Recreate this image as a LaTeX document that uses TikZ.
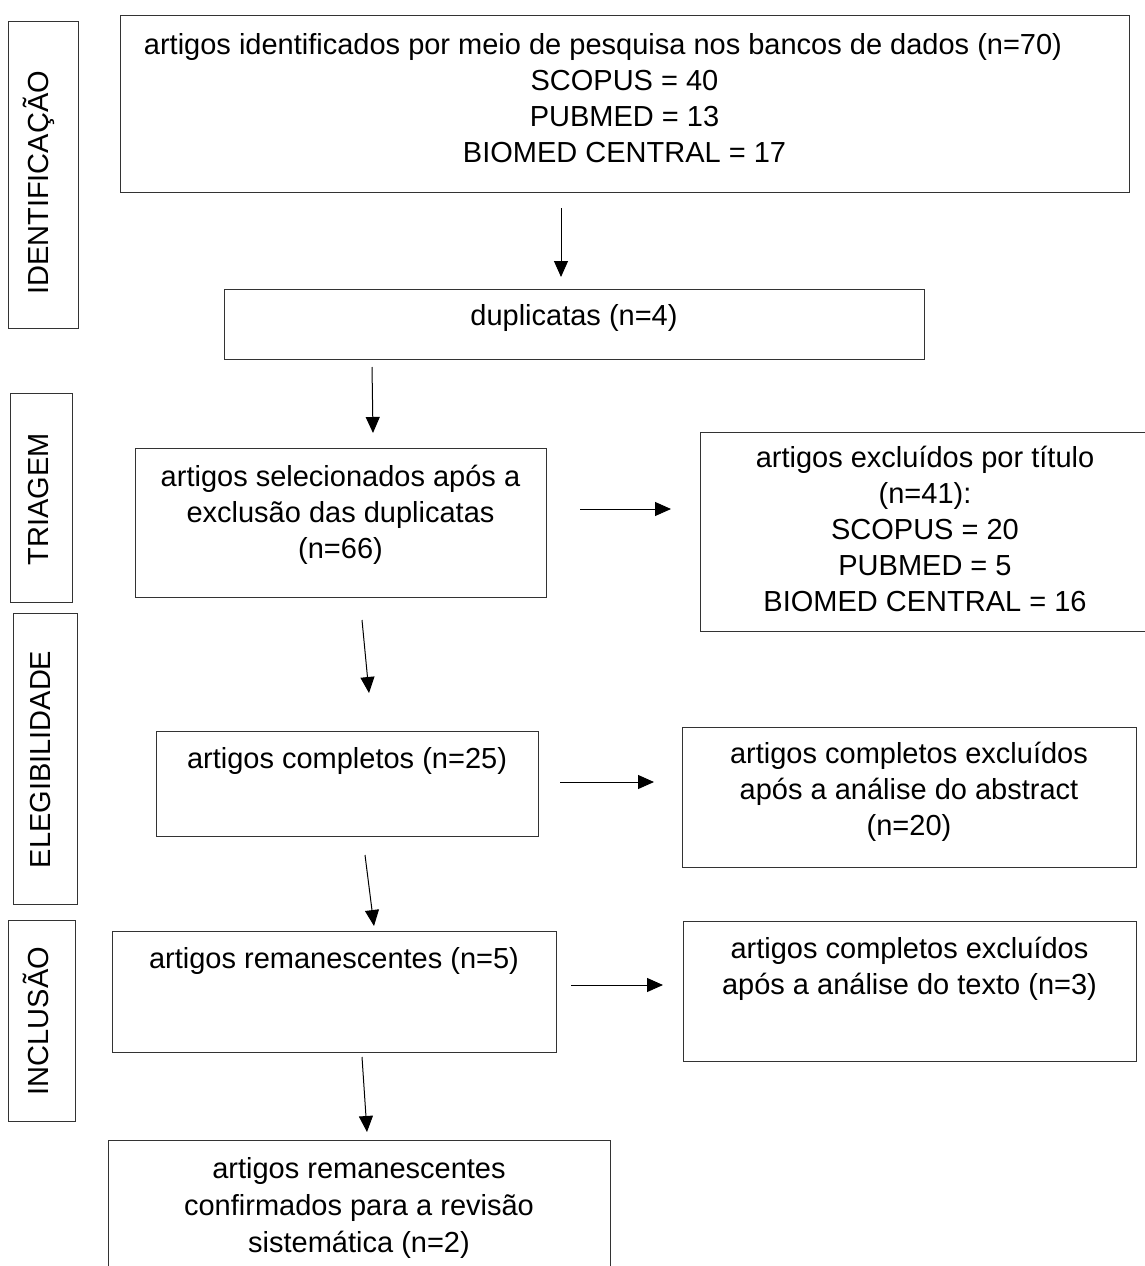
\documentclass[tikz,border=0pt]{standalone}
\usepackage{fontspec}
\setmainfont{Liberation Sans}
\usetikzlibrary{arrows.meta,calc}
\begin{document}
\begin{tikzpicture}[x=1pt,y=-1pt,
  box/.style={draw=black!80, line width=1pt, inner sep=0pt, outer sep=0pt},
  txt/.style={font=\fontsize{29}{36}\selectfont, align=center, inner sep=0pt, anchor=base},
  lab/.style={font=\fontsize{29}{36}\selectfont, inner sep=0pt, anchor=base, rotate=90},
  arr/.style={line width=1pt, draw=black, -{Triangle[length=16pt,width=14pt]}}]
\useasboundingbox (0,0) rectangle (1145,1266);
\fill[white] (0,0) rectangle (1145,1266);
\clip (0,0) rectangle (1145,1266);

% stage labels
\node[box, minimum width=70pt, minimum height=307pt] (lab1) at (43,174.5) {};
\node[lab] (lab1t) at (48,183) {IDENTIFICAÇÃO};
\node[box, minimum width=62pt, minimum height=209pt] (lab2) at (41,497.5) {};
\node[lab] (lab2t) at (48,499) {TRIAGEM};
\node[box, minimum width=64pt, minimum height=291pt] (lab3) at (45,758.5) {};
\node[lab] (lab3t) at (50,759.5) {ELEGIBILIDADE};
\node[box, minimum width=67pt, minimum height=201pt] (lab4) at (41.5,1020.5) {};
\node[lab] (lab4t) at (48,1021) {INCLUSÃO};

% boxes (text nodes are anchored at the baseline of their last line)
\node[box, minimum width=1009pt, minimum height=177pt] (top) at (624.5,103.5) {};
\node[txt] (topt) at (624.5,162.5) {artigos identificados por meio de pesquisa nos bancos de dados (n=70)\hspace*{43pt}\\SCOPUS = 40\\PUBMED = 13\\BIOMED CENTRAL = 17};

\node[box, minimum width=700pt, minimum height=70pt] (dup) at (574,324) {};
\node[txt] (dupt) at (574,325) {duplicatas (n=4)};

\node[box, minimum width=411pt, minimum height=149pt] (sel) at (340.5,522.5) {};
\node[txt] (selt) at (340.5,558) {artigos selecionados após a\\exclusão das duplicatas\\(n=66)};

\node[box, minimum width=450pt, minimum height=199pt] (tit) at (925,531.5) {};
\node[txt] (titt) at (925,611) {artigos excluídos por título\\(n=41):\\SCOPUS = 20\\PUBMED = 5\\BIOMED CENTRAL = 16};

\node[box, minimum width=382pt, minimum height=105pt] (comp) at (347,783.5) {};
\node[txt] (compt) at (347,768) {artigos completos (n=25)};

\node[box, minimum width=454pt, minimum height=140pt] (abs) at (909,797) {};
\node[txt] (abst) at (909,835) {artigos completos excluídos\\após a análise do abstract\\(n=20)};

\node[box, minimum width=444pt, minimum height=121pt] (rem) at (334,991.5) {};
\node[txt] (remt) at (334,968) {artigos remanescentes (n=5)};

\node[box, minimum width=453pt, minimum height=140pt] (tex) at (909.5,991) {};
\node[txt] (text) at (909.5,994) {artigos completos excluídos\\após a análise do texto (n=3)};

\node[box, minimum width=502pt, minimum height=160pt] (fin) at (359,1220) {};
\node[txt, font=\fontsize{29}{37}\selectfont] (fint) at (359,1252) {artigos remanescentes\\confirmados para a revisão\\sistemática (n=2)};

% arrows
\draw[arr] ($(top.south)+(-63.5,16)$) -- ($(dup.north)+(-13,-12)$);
\draw[arr] ($(dup.south)+(-202,8)$) -- ($(sel.north)+(32.5,-15)$);
\draw[arr] ($(sel.south)+(21.5,23)$) -- ($(comp.north)+(22,-38)$);
\draw[arr] ($(comp.south)+(18,19)$) -- ($(rem.north)+(40,-5)$);
\draw[arr] ($(rem.south)+(28,5)$) -- ($(fin.north)+(8,-8)$);
\draw[arr] ($(sel.east)+(34,-13.5)$) -- ($(tit.west)+(-29,-22.5)$);
\draw[arr] ($(comp.east)+(22,-1.5)$) -- ($(abs.west)+(-28,-15)$);
\draw[arr] ($(rem.east)+(15,-6.5)$) -- ($(tex.west)+(-20,-6)$);
\end{tikzpicture}
\end{document}
